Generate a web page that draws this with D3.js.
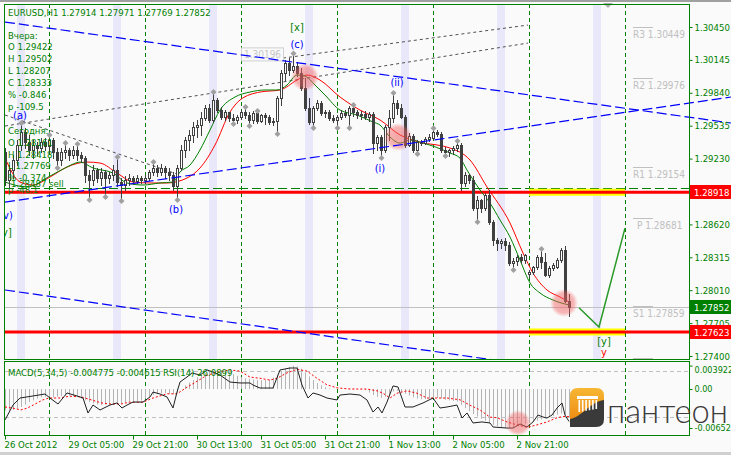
<!DOCTYPE html>
<html><head><meta charset="utf-8">
<script src="https://cdn.jsdelivr.net/npm/d3@7/dist/d3.min.js"></script>
<style>
html,body{margin:0;padding:0;background:#fafafa;}
svg{display:block;}
</style></head><body>
<svg id="chart" width="731" height="455"></svg>
<script>
// ================= DATA =================
const barOpen=[
1.29291,1.29031,1.29124,1.29217,1.29356,1.29476,1.29383,1.29310,1.29356,1.29328,
1.29383,1.29346,1.29402,1.29291,1.29217,1.29291,1.29310,1.29264,1.29310,1.29264,
1.29236,1.29078,1.29031,1.29124,1.29050,1.29105,1.29050,1.29078,1.29124,1.29012,
1.28985,1.29031,1.29050,1.29022,1.29050,1.29031,1.29050,1.29105,1.29143,1.29105,
1.29143,1.29105,1.29078,1.28975,1.29143,1.29310,1.29402,1.29449,1.29523,1.29542,
1.29606,1.29699,1.29588,1.29773,1.29680,1.29615,1.29661,1.29606,1.29588,1.29615,
1.29661,1.29634,1.29588,1.29652,1.29579,1.29634,1.29615,1.29569,1.29579,1.29792,
1.30023,1.30116,1.30051,1.30088,1.30023,1.29884,1.29699,1.29569,1.29699,1.29745,
1.29652,1.29661,1.29606,1.29588,1.29615,1.29652,1.29634,1.29699,1.29661,1.29634,
1.29643,1.29615,1.29643,1.29374,1.29430,1.29310,1.29523,1.29606,1.29745,1.29699,
1.29615,1.29356,1.29439,1.29310,1.29383,1.29374,1.29412,1.29422,1.29476,1.29458,
1.29310,1.29291,1.29310,1.29328,1.29356,1.29003,1.29078,1.29031,1.28772,1.28846,
1.28772,1.28893,1.28642,1.28475,1.28447,1.28466,1.28429,1.28262,1.28281,1.28318,
1.28290,1.28161,1.28179,1.28225,1.28318,1.28272,1.28151,1.28216,1.28225,1.28290,
1.28383,1.27914];
const barHigh=[
1.29328,1.29171,1.29264,1.29402,1.29551,1.29514,1.29449,1.29402,1.29383,1.29421,
1.29421,1.29439,1.29421,1.29328,1.29328,1.29365,1.29328,1.29346,1.29356,1.29291,
1.29254,1.29124,1.29171,1.29143,1.29143,1.29124,1.29105,1.29171,1.29236,1.29050,
1.29068,1.29087,1.29068,1.29078,1.29068,1.29078,1.29124,1.29189,1.29171,1.29180,
1.29161,1.29143,1.29105,1.29171,1.29356,1.29430,1.29495,1.29569,1.29588,1.29661,
1.29727,1.29736,1.29838,1.29792,1.29708,1.29680,1.29661,1.29643,1.29634,1.29680,
1.29699,1.29661,1.29671,1.29661,1.29643,1.29652,1.29634,1.29606,1.29810,1.30051,
1.30144,1.30163,1.30196,1.30125,1.30070,1.29977,1.29792,1.29717,1.29773,1.29764,
1.29680,1.29680,1.29634,1.29634,1.29680,1.29680,1.29717,1.29717,1.29680,1.29671,
1.29671,1.29661,1.29661,1.29449,1.29449,1.29542,1.29680,1.29829,1.29773,1.29736,
1.29634,1.29467,1.29458,1.29402,1.29402,1.29430,1.29458,1.29502,1.29495,1.29476,
1.29337,1.29319,1.29346,1.29383,1.29374,1.29105,1.29087,1.29068,1.28883,1.28856,
1.28911,1.28939,1.28661,1.28494,1.28485,1.28494,1.28456,1.28309,1.28337,1.28346,
1.28346,1.28197,1.28234,1.28336,1.28383,1.28355,1.28234,1.28262,1.28309,1.28401,
1.28418,1.27971];
const barLow=[
1.28985,1.28957,1.29050,1.29171,1.29310,1.29328,1.29264,1.29236,1.29264,1.29291,
1.29310,1.29291,1.29236,1.29152,1.29171,1.29236,1.29217,1.29236,1.29217,1.29198,
1.29012,1.28856,1.28985,1.29012,1.28985,1.28883,1.29003,1.29031,1.28975,1.28846,
1.28939,1.28985,1.28994,1.29003,1.29003,1.29003,1.29031,1.29078,1.29068,1.29078,
1.29050,1.29031,1.28939,1.28856,1.29124,1.29245,1.29310,1.29383,1.29430,1.29449,
1.29588,1.29569,1.29569,1.29661,1.29597,1.29588,1.29579,1.29560,1.29560,1.29597,
1.29606,1.29542,1.29560,1.29560,1.29569,1.29551,1.29551,1.29542,1.29467,1.29727,
1.29958,1.30005,1.30032,1.29995,1.29866,1.29680,1.29551,1.29523,1.29680,1.29634,
1.29615,1.29588,1.29569,1.29523,1.29597,1.29615,1.29523,1.29624,1.29606,1.29597,
1.29597,1.29579,1.29282,1.29310,1.29245,1.29291,1.29402,1.29569,1.29643,1.29606,
1.29337,1.29346,1.29291,1.29282,1.29356,1.29365,1.29393,1.29412,1.29439,1.29291,
1.29264,1.29254,1.29273,1.29301,1.28939,1.28975,1.29003,1.28753,1.28652,1.28734,
1.28753,1.28624,1.28429,1.28383,1.28401,1.28383,1.28244,1.28207,1.28244,1.28262,
1.28262,1.28132,1.28161,1.28206,1.28216,1.28142,1.28132,1.28197,1.28216,1.28271,
1.27901,1.27769];
const barClose=[
1.29031,1.29124,1.29217,1.29356,1.29476,1.29383,1.29310,1.29356,1.29328,1.29383,
1.29346,1.29402,1.29291,1.29217,1.29291,1.29310,1.29264,1.29310,1.29264,1.29236,
1.29078,1.29031,1.29124,1.29050,1.29105,1.29050,1.29078,1.29124,1.29012,1.28985,
1.29031,1.29050,1.29022,1.29050,1.29031,1.29050,1.29105,1.29143,1.29105,1.29143,
1.29105,1.29078,1.28975,1.29143,1.29310,1.29402,1.29449,1.29523,1.29542,1.29606,
1.29699,1.29588,1.29773,1.29680,1.29615,1.29661,1.29606,1.29588,1.29615,1.29661,
1.29634,1.29588,1.29652,1.29579,1.29634,1.29615,1.29569,1.29579,1.29792,1.30023,
1.30116,1.30051,1.30088,1.30023,1.29884,1.29699,1.29569,1.29699,1.29745,1.29652,
1.29661,1.29606,1.29588,1.29615,1.29652,1.29634,1.29699,1.29661,1.29634,1.29643,
1.29615,1.29643,1.29374,1.29430,1.29310,1.29523,1.29606,1.29745,1.29699,1.29615,
1.29356,1.29439,1.29310,1.29383,1.29374,1.29412,1.29430,1.29476,1.29458,1.29310,
1.29291,1.29310,1.29328,1.29356,1.29003,1.29078,1.29031,1.28772,1.28846,1.28772,
1.28893,1.28642,1.28475,1.28447,1.28466,1.28429,1.28262,1.28281,1.28318,1.28290,
1.28333,1.28179,1.28225,1.28318,1.28272,1.28151,1.28216,1.28244,1.28290,1.28383,
1.27910,1.27852];

const upFractalBars=[4,11,15,18,28,37,52,60,63,72,87,97,107,113,134];
const downFractalBars=[13,21,25,29,43,57,61,68,77,83,86,94,103,110,118,127];

// moving averages: [bar, price]
const maFast=[[0,1.29013],[5.5,1.28967],[11.25,1.29068],[15.5,1.29152],[18.75,1.29198],[22,1.29143],[27,1.29096],[30.5,1.29004],[34.5,1.28985],[38.75,1.29004],[42,1.29013],[43.75,1.29106],[46.25,1.29170],[48.75,1.29310],[51.25,1.29495],[53.75,1.29680],[57.5,1.29801],[61.25,1.29847],[65,1.29866],[68,1.29866],[70.5,1.29912],[73,1.30005],[75,1.29995],[77.5,1.29912],[80,1.29819],[83.75,1.29680],[88,1.29634],[92,1.29569],[93.75,1.29541],[96.25,1.29430],[98.75,1.29374],[101.25,1.29402],[104.5,1.29374],[111.25,1.29282],[113.75,1.29235],[115.5,1.29124],[118.75,1.28939],[121.25,1.28818],[123.75,1.28661],[126.25,1.28503],[128.75,1.28290],[131.25,1.28077],[133.75,1.27984],[137,1.27919],[141,1.27873]];
const maSlow=[[0,1.29235],[3.75,1.29013],[7,1.28985],[11.25,1.29059],[15.5,1.29152],[20.5,1.29198],[23.75,1.29189],[28,1.29096],[32,1.29013],[36.25,1.29004],[40.5,1.29004],[45.5,1.29050],[48.75,1.29143],[52.5,1.29356],[56.25,1.29662],[58.75,1.29773],[63.75,1.29847],[68.75,1.29866],[73,1.29958],[75.5,1.30005],[78.75,1.29958],[83.75,1.29801],[88.75,1.29680],[93.75,1.29588],[98.75,1.29449],[103.75,1.29383],[111.25,1.29328],[116.25,1.29217],[120.5,1.28967],[126.25,1.28633],[129.5,1.28355],[132,1.28169],[135.5,1.28012],[138.75,1.27947],[141,1.27901]];

// MACD(5,34,5) main per bar
const macdMain=[
-0.0036,-0.0036,-0.0035,-0.0033,-0.0030,-0.0026,-0.0022,-0.0019,-0.0016,-0.0014,
-0.0013,-0.0013,-0.0014,-0.0013,-0.0012,-0.0011,-0.0011,-0.0012,-0.0013,-0.0016,
-0.0019,-0.0022,-0.0024,-0.0026,-0.0027,-0.0026,-0.0025,-0.0024,-0.0024,-0.0023,
-0.0022,-0.0021,-0.0021,-0.0020,-0.0019,-0.0016,-0.0013,-0.0010,-0.0008,-0.0007,
-0.0007,-0.0008,-0.0009,-0.0006,0.0000,0.0006,0.0011,0.0015,0.0020,0.0024,
0.0027,0.0029,0.0031,0.0032,0.0031,0.0030,0.0028,0.0025,0.0022,0.0020,
0.0018,0.0017,0.0016,0.0015,0.0015,0.0015,0.0016,0.0019,0.0024,0.0029,
0.0034,0.0037,0.0039,0.0038,0.0034,0.0028,0.0021,0.0015,0.0010,0.0006,
0.0003,0.0001,0.0000,0.0000,0.0000,0.0000,0.0001,0.0001,0.0000,-0.0001,
-0.0002,-0.0006,-0.0010,-0.0013,-0.0015,-0.0013,-0.0009,-0.0004,-0.0003,-0.0005,
-0.0008,-0.0011,-0.0014,-0.0016,-0.0017,-0.0017,-0.0016,-0.0015,-0.0015,-0.0016,
-0.0018,-0.0019,-0.0020,-0.0021,-0.0027,-0.0032,-0.0037,-0.0042,-0.0046,-0.0050,
-0.0053,-0.0057,-0.0060,-0.0062,-0.0064,-0.0065,-0.0065,-0.0064,-0.0062,-0.0060,
-0.0058,-0.0057,-0.0055,-0.0053,-0.0051,-0.0049,-0.0047,-0.0045,-0.0043,-0.0041,
-0.0043,-0.004775];
const macdSignal=[[0,-0.0030],[2,-0.0032],[4,-0.0035],[5.5,-0.0032],[7,-0.0027],[9.5,-0.0018],[11,-0.0015],[14,-0.0015],[16,-0.0012],[19,-0.0013],[21,-0.0017],[24,-0.0023],[26,-0.0025],[29,-0.0025],[31,-0.0022],[34.5,-0.0022],[37,-0.0015],[40.5,-0.0008],[43,-0.0008],[45.5,0.0003],[48,0.0013],[50.5,0.0023],[53,0.0028],[56.25,0.0032],[58.75,0.0030],[61.25,0.0020],[63.75,0.0018],[66.25,0.0015],[68,0.0018],[70.5,0.0027],[73,0.0033],[75.5,0.0030],[78,0.0018],[80.5,0.0007],[83,0.0002],[86.25,0.0],[90.5,0.0],[93,-0.0003],[94.5,-0.0007],[96.25,-0.0015],[98,-0.0007],[100.5,-0.0003],[103,-0.0007],[105.5,-0.0015],[108,-0.0015],[110.5,-0.0015],[113.75,-0.0018],[116.25,-0.0027],[118.75,-0.0035],[121.25,-0.0047],[123,-0.0048],[125.5,-0.0055],[128,-0.0060],[130.5,-0.0064],[133,-0.0060],[135.5,-0.0055],[138,-0.0048],[139.5,-0.0046],[141,-0.004615]];
const rsiLine=[[0,27.4],[2,40.4],[3.75,46.5],[7,48.3],[10,50.0],[11.25,46.5],[13.25,41.3],[15.5,50.9],[18,48.3],[19.5,46.5],[20.75,33.5],[22,40.4],[23.75,36.1],[26.25,40.4],[28,42.2],[29.25,37.8],[30.5,40.4],[32,43.0],[34.5,43.0],[36.25,47.4],[37,51.7],[38.75,50.0],[40.5,47.4],[42,37.8],[43,51.7],[43.75,60.4],[45.5,64.8],[46.75,68.3],[48.75,66.5],[50.5,70.9],[52,69.1],[53.75,66.5],[56.25,60.4],[58.75,59.6],[61.25,59.6],[62,57.8],[63.75,55.2],[67,55.2],[68.75,70.9],[71.25,72.6],[73,72.6],[74.25,57.8],[75.75,46.5],[77,50.9],[78.75,49.1],[80.5,46.5],[83,44.8],[83.75,49.1],[86.25,50.0],[88.75,49.1],[90.5,44.8],[92,34.3],[93.25,38.7],[94.25,33.5],[95.5,43.0],[97,57.0],[98.25,56.1],[100,38.7],[102,38.7],[104.5,42.2],[107,46.5],[108.75,37.8],[110.5,38.7],[113,40.4],[114.25,29.1],[115.5,33.5],[117,24.8],[119.25,25.7],[121.25,24.8],[122,21.3],[125.5,20.4],[127,20.4],[128.75,23.9],[130.5,21.3],[132,25.7],[133.25,31.7],[134.5,30.0],[135.5,29.1],[136.75,31.7],[138,37.8],[139.25,42.2],[140,31.7],[141,26.09]];
const rsiLevels=[70,30];

const priceTicks=[1.30450,1.30145,1.29840,1.29535,1.29230,1.28620,1.28315,1.28010,1.27705,1.27400];
const tagPrices=[1.28918,1.27852,1.27623];
const macdTicks=[0.003922,0,-0.00652];
const macdTickLabels=["0.003922","0.00","-0.00652"];
const timeTickBars=[0,16,32,48,64,80,96,112,128];
const timeTickLabels=["26 Oct 2012","29 Oct 05:00","29 Oct 21:00","30 Oct 13:00","31 Oct 05:00","31 Oct 21:00","1 Nov 13:00","2 Nov 05:00","2 Nov 21:00"];
const daySeparatorBars=[11,35,59,83,107,131,155];
const sessionBandBars=[3,27,51,75,99,123,147];
const pivotNames=["R3","R2","R1","P","S1","S2"];
const pivotValues=[1.30449,1.29976,1.29154,1.28681,1.27859,1.27386];
const srLevels=[1.28918,1.27623];
const zoneBars=[131,155];
const dashedLevel=1.28960;
const bidPrice=1.27852;
const channelUpper=[[0,1.30496],[181.5,1.29560]];
const channelMid=[[0,1.28827],[181.5,1.29801]];
const channelLower=[[0,1.28012],[181.5,1.27048]];
const dottedA=[[0,1.29532],[130.75,1.30301]];
const dottedB=[[69.5,1.30162],[130.75,1.30468]];
const dottedC=[[0,1.29634],[43,1.29087]];
const projection=[[143.5,1.27848],[148.5,1.27669],[155,1.28586]];
const waveText=["(a)","(v)","[y]","(b)","[x]","(c)","(ii)","(i)","[y]","y"];
const waveBar=[3.75,0.25,0,42.75,73,73,98,93.75,149.75,149.75];
const wavePrice=[1.29634,1.28707,1.28549,1.28763,1.30450,1.30292,1.29940,1.29143,1.27539,1.27437];
const waveDegree=["minor","minor","inter","minor","inter","minor","minute","minute","inter","primary"];
const highlightBars=[75,98.25,139.75];
const highlightPrices=[1.29986,1.29430,1.27891];
const macdHighlight=[128.25,-0.00568];
const peakPrice=1.30196, peakBar=72;
const headerText="EURUSD,H1  1.27914 1.27971 1.27769 1.27852";
const infoLines=["Вчера:","O 1.29422","H 1.29502","L 1.28207","C 1.28333","% -0.846","p -109.5","","Сегодня:","O 1.28161","H 1.28418","L 1.27769","% -0.374","p -48.1"];
const orderText="1.28487 sell";
const macdTitle="MACD(5,34,5) -0.004775 -0.004615";
const rsiTitle="RSI(14) 26.0899";
const logoText="пантеон";

// ================= DRAW =================
const FONT='"DejaVu Sans Condensed","Liberation Sans",sans-serif';
const GREEN="#008000", CANDLE="#404040";
const svg=d3.select("#chart");
const x=d3.scaleLinear().domain([0,171]).range([5,689]);
const y=d3.scaleLinear().domain([1.2740,1.3045]).range([356,27]);
const ym=d3.scaleLinear().domain([-0.00652,0.003922]).range([428,365.6]);
const yr=d3.scaleLinear().domain([30,70]).range([417,371]);

svg.append("rect").attr("width",731).attr("height",455).attr("fill","#fafafa");
svg.append("rect").attr("width",731).attr("height",2).attr("fill","#a0a0a0");
svg.append("rect").attr("y",452).attr("width",731).attr("height",3).attr("fill","#d0d0d0");

const defs=svg.append("defs");
defs.append("clipPath").attr("id","cm").append("rect").attr("x",5).attr("y",5).attr("width",684).attr("height",354);
defs.append("clipPath").attr("id","cw").append("rect").attr("x",5).attr("y",5).attr("width",726).attr("height",354);
defs.append("clipPath").attr("id","cd").append("rect").attr("x",5).attr("y",362).attr("width",684).attr("height",73);
const rg=defs.append("radialGradient").attr("id","pink");
rg.append("stop").attr("offset","0%").attr("stop-color","#f06060").attr("stop-opacity",0.55);
rg.append("stop").attr("offset","70%").attr("stop-color","#f06060").attr("stop-opacity",0.45);
rg.append("stop").attr("offset","100%").attr("stop-color","#f06060").attr("stop-opacity",0);
const og=defs.append("linearGradient").attr("id","orng").attr("x1",0).attr("y1",0).attr("x2",0).attr("y2",1);
og.append("stop").attr("offset","0%").attr("stop-color","#f7b733");
og.append("stop").attr("offset","100%").attr("stop-color","#ee8c12");

const main=svg.append("g").attr("clip-path","url(#cm)");
const sub=svg.append("g").attr("clip-path","url(#cd)");

// session bands
main.selectAll(".band").data(sessionBandBars).join("rect")
 .attr("x",d=>x(d)).attr("y",5).attr("width",x(2)-x(0)).attr("height",354).attr("fill","#e8e8fa");

// day separators (both panels)
[main,sub].forEach(g=>g.selectAll(".sep").data(daySeparatorBars).join("line")
 .attr("x1",d=>x(d)+0.5).attr("x2",d=>x(d)+0.5).attr("y1",4).attr("y2",436)
 .attr("stroke",GREEN).attr("stroke-dasharray","4,3"));

// pivots
const piv=main.append("g");
pivotValues.forEach((v,i)=>{
  piv.append("line").attr("x1",633).attr("x2",653).attr("y1",Math.round(y(v))+0.5).attr("y2",Math.round(y(v))+0.5).attr("stroke","#c0c0c0");
  piv.append("text").attr("x",pivotNames[i].length===1?637:633).attr("y",y(v)+11).attr("font-family",FONT).attr("font-size",10)
   .attr("fill","#c0c0c0").text(pivotNames[i]+" "+v.toFixed(5));
});

// bid line
main.append("line").attr("x1",5).attr("x2",689).attr("y1",Math.round(y(bidPrice))+0.5).attr("y2",Math.round(y(bidPrice))+0.5).attr("stroke","#c0c0c0");
// dashed green level
main.append("line").attr("x1",5).attr("x2",689).attr("y1",Math.round(y(dashedLevel))+0.5).attr("y2",Math.round(y(dashedLevel))+0.5).attr("stroke",GREEN).attr("stroke-dasharray","9,4");
// yellow zones + red levels
srLevels.forEach(v=>{
  main.append("rect").attr("x",x(zoneBars[0])).attr("width",x(zoneBars[1])-x(zoneBars[0])).attr("y",y(v)-3.5).attr("height",7).attr("fill","#ffff00");
  main.append("line").attr("x1",5).attr("x2",689).attr("y1",y(v)).attr("y2",y(v)).attr("stroke","#ff0000").attr("stroke-width",3);
});

const lineP=d3.line().x(d=>x(d[0])).y(d=>y(d[1]));
// channels (extend over the price scale like in the terminal)
const wide=svg.append("g").attr("clip-path","url(#cw)");
[channelUpper,channelMid,channelLower].forEach(c=>wide.append("path").attr("d",lineP(c)).attr("fill","none").attr("stroke","#0000ff").attr("stroke-width",1.2).attr("stroke-dasharray","10,4"));
[dottedA,dottedB,dottedC].forEach(c=>main.append("path").attr("d",lineP(c)).attr("fill","none").attr("stroke","#505050").attr("stroke-width",1).attr("stroke-dasharray","3,3"));

// moving averages
const lineS=d3.line().x(d=>x(d[0])).y(d=>y(d[1])).curve(d3.curveMonotoneX);
main.append("path").attr("d",lineS(maSlow)).attr("fill","none").attr("stroke","#ff0000").attr("stroke-width",1);
main.append("path").attr("d",lineS(maFast)).attr("fill","none").attr("stroke",GREEN).attr("stroke-width",1);

// candles
const cg=main.append("g").attr("shape-rendering","crispEdges");
barClose.forEach((c,i)=>{
  const o=barOpen[i], xi=x(i);
  cg.append("line").attr("x1",xi+0.5).attr("x2",xi+0.5).attr("y1",y(barHigh[i])).attr("y2",y(barLow[i])+1).attr("stroke",CANDLE);
  const top=Math.round(y(Math.max(o,c))), bot=Math.round(y(Math.min(o,c)));
  if(c>=o){
    cg.append("rect").attr("x",xi-0.5).attr("y",top+0.5).attr("width",2).attr("height",Math.max(bot-top,1)).attr("fill","#ffffff").attr("stroke",CANDLE);
  }else{
    cg.append("rect").attr("x",xi-1).attr("y",top).attr("width",3).attr("height",Math.max(bot-top,1)+1).attr("fill",CANDLE);
  }
});
// fractals
const dia="M0,-3L3,0L0,3L-3,0Z";
upFractalBars.forEach(i=>main.append("path").attr("d",dia).attr("transform",`translate(${x(i)+0.5},${y(barHigh[i])-1})`).attr("fill","#a0a0a0"));
downFractalBars.forEach(i=>main.append("path").attr("d",dia).attr("transform",`translate(${x(i)+0.5},${y(barLow[i])+1})`).attr("fill","#a0a0a0"));

// projection
main.append("path").attr("d",lineP(projection)).attr("fill","none").attr("stroke","#2a9a2a").attr("stroke-width",1.5);

// peak label
const py=y(peakPrice), px=x(peakBar);
main.append("rect").attr("x",px-51.5).attr("y",py-6.5).attr("width",42).attr("height",13).attr("fill","none").attr("stroke","#d0d0d0");
main.append("text").attr("x",px-30.5).attr("y",py+3.5).attr("text-anchor","middle").attr("font-family",FONT).attr("font-size",10).attr("fill","#c8c8c8").text(peakPrice.toFixed(5));

// highlights
highlightBars.forEach((b,i)=>main.append("circle").attr("cx",x(b)).attr("cy",y(highlightPrices[i])).attr("r",14).attr("fill","url(#pink)"));

// wave labels
const degColor={minor:"#0000ff",minute:"#0000ff",inter:GREEN,primary:"#ff0000"};
waveText.forEach((t,i)=>main.append("text").attr("x",x(waveBar[i])).attr("y",y(wavePrice[i])+4).attr("text-anchor","middle")
  .attr("font-family",FONT).attr("font-size",11).attr("fill",degColor[waveDegree[i]]).text(t));

// info text
const info=main.append("g").attr("font-family",FONT).attr("font-size",9.5).attr("fill",GREEN);
info.append("text").attr("x",8).attr("y",16).text(headerText);
infoLines.forEach((t,k)=>info.append("text").attr("x",8).attr("y",38.5+11.9*k).text(t));
info.append("text").attr("x",11).attr("y",186.5).text(orderText);

// chart shift marker
svg.append("path").attr("d","M603,3L613,3L608,8Z").attr("fill","#b0b0b0");

// ===== MACD panel =====
sub.selectAll(".h").data(macdMain).join("line")
  .attr("x1",(d,i)=>x(i)+0.5).attr("x2",(d,i)=>x(i)+0.5).attr("y1",ym(0)).attr("y2",d=>ym(d)).attr("stroke","#b4b4b4");
rsiLevels.forEach(v=>sub.append("line").attr("x1",5).attr("x2",689).attr("y1",Math.round(yr(v))+0.5).attr("y2",Math.round(yr(v))+0.5).attr("stroke","#c0c0c0").attr("stroke-dasharray","4,3"));
sub.append("path").attr("d",d3.line().x(d=>x(d[0])).y(d=>ym(d[1]))(macdSignal)).attr("fill","none").attr("stroke","#ff0000").attr("stroke-dasharray","2,2");
sub.append("path").attr("d",d3.line().x(d=>x(d[0])).y(d=>yr(d[1]))(rsiLine)).attr("fill","none").attr("stroke","#202020");
sub.append("circle").attr("cx",x(macdHighlight[0])).attr("cy",ym(macdHighlight[1])).attr("r",13).attr("fill","url(#pink)");
const st=sub.append("g").attr("font-family",FONT).attr("font-size",9.5).attr("fill",GREEN);
st.append("text").attr("x",8).attr("y",375.5).text(macdTitle);
st.append("text").attr("x",163).attr("y",375.5).text(rsiTitle);

// panel frames
svg.append("rect").attr("x",4.5).attr("y",4.5).attr("width",685).attr("height",355).attr("fill","none").attr("stroke",GREEN);
svg.append("rect").attr("x",4.5).attr("y",361.5).attr("width",685).attr("height",74).attr("fill","none").attr("stroke",GREEN);

// right price axis
const ax=svg.append("g").attr("transform","translate(689.5,0)")
  .call(d3.axisRight(y).tickValues(priceTicks).tickFormat(d3.format(".5f")).tickSize(3).tickPadding(2));
ax.select(".domain").remove();
ax.attr("font-family",FONT).attr("font-size",9.5);
ax.selectAll("line").attr("stroke",GREEN);
ax.selectAll("text").attr("fill",GREEN);

// tags
const tagColor=["#ff0000",GREEN,"#ff0000"];
tagPrices.forEach((v,i)=>{
  svg.append("rect").attr("x",690).attr("y",Math.round(y(v))-7).attr("width",41).attr("height",14).attr("fill",tagColor[i]);
  svg.append("text").attr("x",694).attr("y",Math.round(y(v))+3.5).attr("font-family",FONT).attr("font-size",9.5).attr("fill","#fff").text(v.toFixed(5));
});

// MACD axis
const mx=svg.append("g").attr("transform","translate(689.5,0)")
  .call(d3.axisRight(ym).tickValues(macdTicks).tickFormat((d,i)=>macdTickLabels[i]).tickSize(3).tickPadding(2));
mx.select(".domain").remove();
mx.attr("font-family",FONT).attr("font-size",9);
mx.selectAll("line").attr("stroke",GREEN);
mx.selectAll("text").attr("fill",GREEN).attr("y",(d)=>Math.max(0,370-ym(d)));

// time axis
const tx=svg.append("g").attr("transform","translate(0,435.5)")
  .call(d3.axisBottom(x).tickValues(timeTickBars).tickFormat((d,i)=>timeTickLabels[i]).tickSize(4).tickPadding(2));
tx.select(".domain").remove();
tx.attr("font-family",FONT).attr("font-size",9.5);
tx.selectAll("line").attr("stroke",GREEN);
tx.selectAll("text").attr("fill",GREEN).attr("text-anchor","start").attr("dx",-1);

// logo
const lg=svg.append("g");
lg.append("path").attr("d","M578,388 L596,388 Q604,388 604,396 L604,410 L570,420 L570,396 Q570,388 578,388 Z").attr("fill","url(#orng)");
lg.append("path").attr("d","M570,419 C582,417 590,402 604,400 L604,419 Q604,427 596,427 L570,427 Z").attr("fill","#3a3a3a");
lg.append("rect").attr("x",577).attr("y",396).attr("width",21).attr("height",3).attr("fill","#fff");
for(let k=0;k<6;k++) lg.append("rect").attr("x",578.5+k*3.4).attr("y",400).attr("width",1.6).attr("height",12-k*0.6).attr("fill","#fff");
lg.append("text").attr("x",607).attr("y",423).attr("font-family","Lato,'Liberation Sans',sans-serif").attr("font-weight",300)
  .attr("font-size",34).attr("fill","#3c3c3c").attr("textLength",121).attr("lengthAdjust","spacingAndGlyphs").text(logoText);
</script></body></html>
